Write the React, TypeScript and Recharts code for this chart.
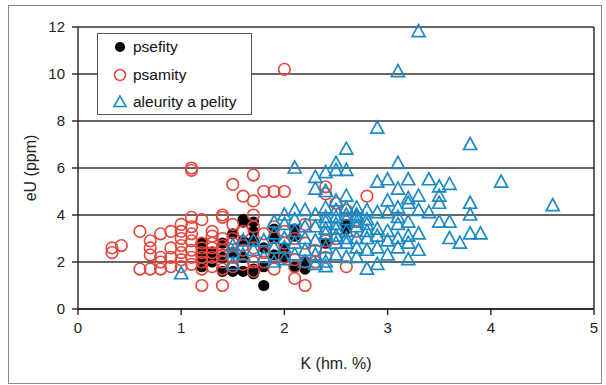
import {
  ScatterChart,
  Scatter,
  XAxis,
  YAxis,
  CartesianGrid,
  ReferenceLine,
} from "recharts";

const xTicks = [0, 1, 2, 3, 4, 5];
const yTicks = [0, 2, 4, 6, 8, 10, 12];

// [K (hm. %), eU (ppm)]
const psefity: number[][] = [
  [1.2, 2.8], [1.2, 2.6], [1.2, 2.2], [1.2, 1.8],
  [1.3, 2.4], [1.3, 2.0],
  [1.4, 2.8], [1.4, 2.2], [1.4, 1.6],
  [1.5, 3.2], [1.5, 2.4], [1.5, 1.6],
  [1.6, 3.8], [1.6, 3.7], [1.6, 2.9], [1.6, 2.2], [1.6, 1.6],
  [1.7, 3.7], [1.7, 3.3], [1.7, 2.9], [1.7, 1.7], [1.7, 1.5],
  [1.8, 1.0], [1.8, 2.6], [1.8, 1.8],
  [1.9, 3.4], [1.9, 3.0], [1.9, 2.3],
  [2.0, 2.6], [2.0, 2.2],
  [2.1, 3.4], [2.1, 3.1], [2.1, 1.8],
  [2.2, 2.0], [2.2, 1.7],
  [2.4, 2.8], [2.6, 3.6], [2.6, 3.4],
];

const psamity: number[][] = [
  [0.33, 2.6], [0.33, 2.4], [0.42, 2.7],
  [0.6, 3.3], [0.6, 1.7],
  [0.7, 2.9], [0.7, 2.6], [0.7, 2.3], [0.7, 1.7],
  [0.8, 3.2], [0.8, 2.2], [0.8, 2.0], [0.8, 1.7],
  [0.9, 3.3], [0.9, 2.6], [0.9, 2.2], [0.9, 1.8],
  [1.0, 3.6], [1.0, 3.3], [1.0, 3.0], [1.0, 2.7], [1.0, 2.4], [1.0, 2.1], [1.0, 1.8],
  [1.1, 6.0], [1.1, 5.9], [1.1, 3.9], [1.1, 3.5], [1.1, 3.2], [1.1, 2.9], [1.1, 2.5], [1.1, 2.2], [1.1, 1.9],
  [1.2, 3.8], [1.2, 2.8], [1.2, 2.6], [1.2, 2.4], [1.2, 2.2], [1.2, 2.0], [1.2, 1.7], [1.2, 1.0],
  [1.3, 3.3], [1.3, 3.1], [1.3, 2.8], [1.3, 2.6], [1.3, 2.4], [1.3, 2.2], [1.3, 1.8],
  [1.4, 4.0], [1.4, 3.9], [1.4, 3.0], [1.4, 2.7], [1.4, 2.5], [1.4, 2.3], [1.4, 2.0], [1.4, 1.7], [1.4, 1.0],
  [1.5, 5.3], [1.5, 3.6], [1.5, 3.0], [1.5, 2.8], [1.5, 2.2], [1.5, 1.8],
  [1.6, 4.8], [1.6, 3.3], [1.6, 2.7], [1.6, 2.5], [1.6, 1.9],
  [1.7, 5.7], [1.7, 4.6], [1.7, 4.0], [1.7, 3.5], [1.7, 2.6], [1.7, 2.0], [1.7, 1.6],
  [1.8, 5.0], [1.8, 3.2], [1.8, 2.4], [1.8, 2.0],
  [1.9, 5.0], [1.9, 3.5], [1.9, 2.6], [1.9, 1.7],
  [2.0, 10.2], [2.0, 5.0], [2.0, 3.3], [2.0, 2.8], [2.0, 2.2],
  [2.1, 3.0], [2.1, 2.1], [2.1, 1.8], [2.1, 1.3],
  [2.2, 3.6], [2.2, 2.8], [2.2, 2.0], [2.2, 1.0],
  [2.3, 2.5], [2.3, 2.0],
  [2.4, 5.2], [2.4, 4.9], [2.4, 2.9], [2.4, 2.2],
  [2.5, 4.5], [2.5, 3.0],
  [2.6, 4.2], [2.6, 1.8],
  [2.7, 3.3], [2.8, 4.8],
];

const aleurity: number[][] = [
  [1.0, 1.5],
  [1.5, 2.7], [1.5, 2.4], [1.5, 1.9],
  [1.6, 2.9], [1.6, 2.3],
  [1.7, 2.5], [1.7, 2.9],
  [1.8, 2.9], [1.8, 2.2],
  [1.9, 3.7], [1.9, 3.2], [1.9, 2.6], [1.9, 2.0],
  [2.0, 4.0], [2.0, 3.6], [2.0, 3.0], [2.0, 2.6], [2.0, 2.1],
  [2.1, 6.0], [2.1, 4.2], [2.1, 3.8], [2.1, 3.3], [2.1, 2.8], [2.1, 2.3],
  [2.2, 4.2], [2.2, 3.5], [2.2, 3.0], [2.2, 2.5], [2.2, 2.0],
  [2.3, 5.6], [2.3, 5.1], [2.3, 4.0], [2.3, 3.5], [2.3, 2.9], [2.3, 2.3], [2.3, 1.9],
  [2.4, 5.8], [2.4, 5.0], [2.4, 4.3], [2.4, 3.9], [2.4, 3.7], [2.4, 3.4], [2.4, 3.2], [2.4, 2.6], [2.4, 2.0], [2.4, 1.8],
  [2.5, 6.2], [2.5, 5.9], [2.5, 4.6], [2.5, 4.2], [2.5, 3.9], [2.5, 3.6], [2.5, 3.4], [2.5, 3.1], [2.5, 2.8], [2.5, 2.3],
  [2.6, 6.8], [2.6, 5.9], [2.6, 4.8], [2.6, 4.3], [2.6, 4.0], [2.6, 3.8], [2.6, 3.3], [2.6, 3.0], [2.6, 2.8], [2.6, 2.2],
  [2.7, 4.3], [2.7, 4.0], [2.7, 3.9], [2.7, 3.7], [2.7, 3.5], [2.7, 3.0], [2.7, 2.6], [2.7, 2.2],
  [2.8, 4.2], [2.8, 3.8], [2.8, 3.6], [2.8, 3.3], [2.8, 3.0], [2.8, 2.5], [2.8, 1.7],
  [2.9, 7.7], [2.9, 5.4], [2.9, 4.1], [2.9, 3.4], [2.9, 3.1], [2.9, 2.6], [2.9, 1.9],
  [3.0, 5.5], [3.0, 4.6], [3.0, 4.1], [3.0, 3.3], [3.0, 2.9], [3.0, 2.3],
  [3.1, 10.1], [3.1, 6.2], [3.1, 5.1], [3.1, 4.3], [3.1, 3.9], [3.1, 3.6], [3.1, 3.0], [3.1, 2.6],
  [3.2, 5.5], [3.2, 4.7], [3.2, 4.5], [3.2, 3.7], [3.2, 3.1], [3.2, 2.8], [3.2, 2.1],
  [3.3, 11.8], [3.3, 4.8], [3.3, 4.2], [3.3, 3.2], [3.3, 2.5],
  [3.4, 5.5], [3.4, 4.1],
  [3.5, 5.2], [3.5, 4.8], [3.5, 4.5], [3.5, 3.7],
  [3.6, 5.3], [3.6, 3.7], [3.6, 3.0],
  [3.7, 2.8],
  [3.8, 7.0], [3.8, 4.5], [3.8, 4.0], [3.8, 3.2],
  [3.9, 3.2],
  [4.1, 5.4],
  [4.6, 4.4],
];

const seriesNames = ["psefity", "psamity", "aleurity a pelity"];
const RED = "#e5463b";
const BLUE = "#1b8ac4";
const FONT = "'Liberation Sans', Arial, sans-serif";

const toPoints = (rows: number[][]) => rows.map(([k, u]) => ({ k, u }));

const Dot = (p: any) => <circle cx={p.cx} cy={p.cy} r={5.6} fill="#000" />;
const Ring = (p: any) => (
  <circle cx={p.cx} cy={p.cy} r={5.8} fill="none" stroke={RED} strokeWidth={1.6} />
);
const Tri = (p: any) => (
  <polygon
    points={`${p.cx},${p.cy - 7} ${p.cx - 6.5},${p.cy + 5} ${p.cx + 6.5},${p.cy + 5}`}
    fill="none"
    stroke={BLUE}
    strokeWidth={1.7}
  />
);

const tickStyle = { fill: "#222", fontSize: 15, fontFamily: FONT };

function LegendBox() {
  const icons = [
    <circle cx={8} cy={8} r={5} fill="#000" />,
    <circle cx={8} cy={8} r={5.5} fill="none" stroke={RED} strokeWidth={1.5} />,
    <polygon points="8,2 2,12.5 14,12.5" fill="none" stroke={BLUE} strokeWidth={1.6} />,
  ];
  return (
    <div
      style={{
        position: "absolute",
        left: 97,
        top: 33,
        width: 155,
        height: 82,
        boxSizing: "border-box",
        border: "1.5px solid #555",
        background: "#fff",
        fontFamily: FONT,
        fontSize: 15.5,
        color: "#111",
      }}
    >
      {seriesNames.map((name, i) => (
        <div
          key={name}
          style={{
            position: "absolute",
            left: 14,
            top: 2 + i * 27.5,
            display: "flex",
            alignItems: "center",
            height: 22,
            whiteSpace: "nowrap",
          }}
        >
          <svg width={16} height={16} style={{ marginRight: 5 }}>
            {icons[i]}
          </svg>
          <span>{name}</span>
        </div>
      ))}
    </div>
  );
}

export default function App() {
  return (
    <div style={{ position: "absolute", left: 0, top: 0, width: 606, height: 385, background: "#fff" }}>
      <div
        style={{
          position: "absolute",
          left: 8,
          top: 5,
          width: 594,
          height: 379,
          boxSizing: "border-box",
          border: "1.5px solid #8a8a8a",
        }}
      />
      <ScatterChart width={606} height={385} margin={{ top: 27, right: 12, bottom: 0, left: 0 }}>
        <CartesianGrid vertical={false} stroke="#333" strokeWidth={1.4} />
        <XAxis
          type="number"
          dataKey="k"
          domain={[0, 5]}
          ticks={xTicks}
          height={76}
          tick={tickStyle}
          tickSize={6}
          tickMargin={7}
          axisLine={{ stroke: "#222", strokeWidth: 1.4 }}
          tickLine={{ stroke: "#222", strokeWidth: 1.4 }}
          label={{
            value: "K (hm. %)",
            position: "insideBottom",
            offset: 16,
            style: { fill: "#222", fontSize: 16, fontFamily: FONT },
          }}
        />
        <YAxis
          type="number"
          dataKey="u"
          domain={[0, 12]}
          ticks={yTicks}
          width={78}
          tick={tickStyle}
          tickSize={6}
          tickMargin={7}
          axisLine={{ stroke: "#222", strokeWidth: 1.4 }}
          tickLine={{ stroke: "#222", strokeWidth: 1.4 }}
          label={{
            value: "eU (ppm)",
            angle: -90,
            position: "insideLeft",
            offset: 30,
            style: { fill: "#222", fontSize: 16, fontFamily: FONT, textAnchor: "middle" },
          }}
        />
        <ReferenceLine x={5} stroke="#222" strokeWidth={1.4} />
        <Scatter name={seriesNames[0]} data={toPoints(psefity)} shape={Dot} isAnimationActive={false} />
        <Scatter name={seriesNames[1]} data={toPoints(psamity)} shape={Ring} isAnimationActive={false} />
        <Scatter name={seriesNames[2]} data={toPoints(aleurity)} shape={Tri} isAnimationActive={false} />
      </ScatterChart>
      <LegendBox />
    </div>
  );
}
